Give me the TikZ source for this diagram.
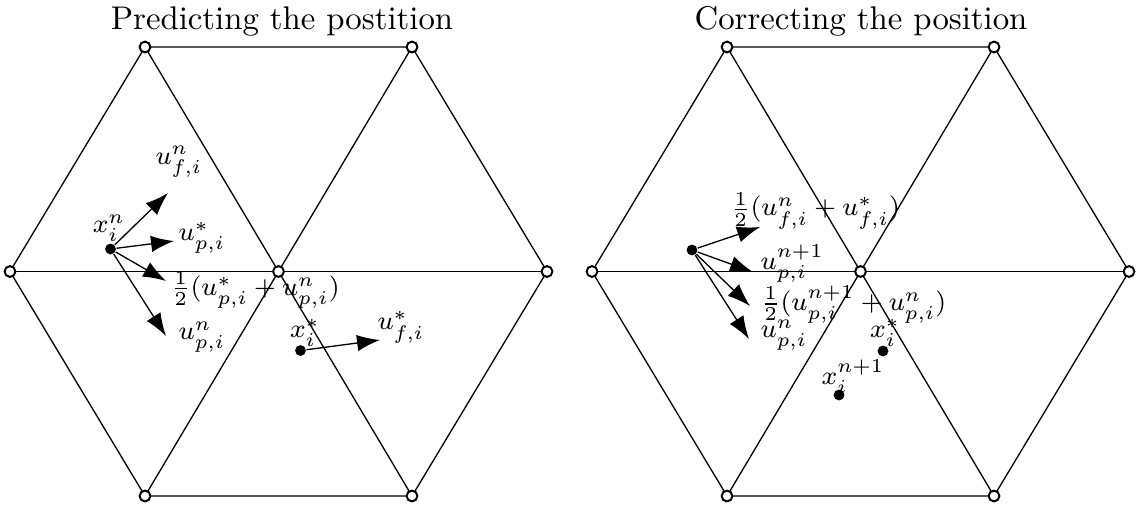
\documentclass[tikz,border=0pt]{standalone}
\usetikzlibrary{arrows.meta}

\begin{document}
\begin{tikzpicture}[
  x=0.305pt, y=-0.305pt,
  edge/.style={line width=0.4pt},
  vertex/.style={circle, draw, fill=white, line width=0.6pt,
    inner sep=0pt, minimum size=3.3pt},
  particle/.style={circle, fill=black, inner sep=0pt, minimum size=3.3pt},
  vel/.style={-{Latex[length=7pt,width=5pt]}, line width=0.4pt},
  lbl/.style={inner sep=0pt, font=\footnotesize},
  heading/.style={anchor=base},
]
  \useasboundingbox (0,0) rectangle (1143,506);

  % the two hexagonal patches of six triangles
  \foreach \side/\dx in {pred/0, corr/582} {
    \coordinate (\side-c) at (278.5+\dx,271.5);
    \coordinate (\side-1) at (10+\dx,271.5);
    \coordinate (\side-2) at (145+\dx,47);
    \coordinate (\side-3) at (412+\dx,47);
    \coordinate (\side-4) at (547+\dx,271.5);
    \coordinate (\side-5) at (412+\dx,496);
    \coordinate (\side-6) at (145+\dx,496);
    \draw[edge] (\side-1) -- (\side-2) -- (\side-3) -- (\side-4)
      -- (\side-5) -- (\side-6) -- cycle;
    \draw[edge] (\side-1) -- (\side-4);
    \draw[edge] (\side-2) -- (\side-5);
    \draw[edge] (\side-3) -- (\side-6);
    \foreach \v in {c,1,2,3,4,5,6}
      \node[vertex] at (\side-\v) {};
  }

  % predicting
  \node[heading] (pred-title) at (282,29) {Predicting the postition};
  \node[particle] (pred-xn) at (110.5,249) {};
  \node[lbl] (pred-xn-lbl) at (109,228) {$x_i^n$};
  \coordinate (pred-uf) at (168,193);
  \coordinate (pred-up) at (174,241);
  \coordinate (pred-mid) at (166,281);
  \coordinate (pred-upn) at (166,336);
  \draw[vel] (pred-xn) -- (pred-uf);
  \draw[vel] (pred-xn) -- (pred-up);
  \draw[vel] (pred-xn) -- (pred-mid);
  \draw[vel] (pred-xn) -- (pred-upn);
  \node[lbl] (pred-uf-lbl) at (179,162) {$u_{f,i}^n$};
  \node[lbl, anchor=west] (pred-up-lbl) at (178,238) {$u_{p,i}^*$};
  \node[lbl, anchor=west] (pred-mid-lbl) at (170,290)
    {$\frac{1}{2}(u_{p,i}^* + u_{p,i}^n)$};
  \node[lbl, anchor=west] (pred-upn-lbl) at (178,337) {$u_{p,i}^n$};
  \node[particle] (pred-xs) at (300.5,350.5) {};
  \node[lbl] (pred-xs-lbl) at (305,333) {$x_i^*$};
  \coordinate (pred-ufs) at (380,340);
  \draw[vel] (pred-xs) -- (pred-ufs);
  \node[lbl] (pred-ufs-lbl) at (401,327) {$u_{f,i}^*$};

  % correcting
  \node[heading] (corr-title) at (861,29) {Correcting the position};
  \node[particle] (corr-xn) at (692,250) {};
  \coordinate (corr-uf) at (760,227);
  \coordinate (corr-up) at (753,272);
  \coordinate (corr-mid) at (750,306);
  \coordinate (corr-upn) at (749,339);
  \draw[vel] (corr-xn) -- (corr-uf);
  \draw[vel] (corr-xn) -- (corr-up);
  \draw[vel] (corr-xn) -- (corr-mid);
  \draw[vel] (corr-xn) -- (corr-upn);
  \node[lbl, anchor=west] (corr-uf-lbl) at (730,211)
    {$\frac{1}{2}(u_{f,i}^n + u_{f,i}^*)$};
  \node[lbl, anchor=west] (corr-up-lbl) at (760,264) {$u_{p,i}^{n+1}$};
  \node[lbl, anchor=west] (corr-mid-lbl) at (760,305)
    {$\frac{1}{2}(u_{p,i}^{n+1} + u_{p,i}^n)$};
  \node[lbl, anchor=west] (corr-upn-lbl) at (760,335) {$u_{p,i}^n$};
  \node[particle] (corr-xs) at (883,351) {};
  \node[lbl] (corr-xs-lbl) at (885,333) {$x_i^*$};
  \node[particle] (corr-xnp) at (839,395) {};
  \node[lbl] (corr-xnp-lbl) at (853,377) {$x_i^{n+1}$};
\end{tikzpicture}
\end{document}
